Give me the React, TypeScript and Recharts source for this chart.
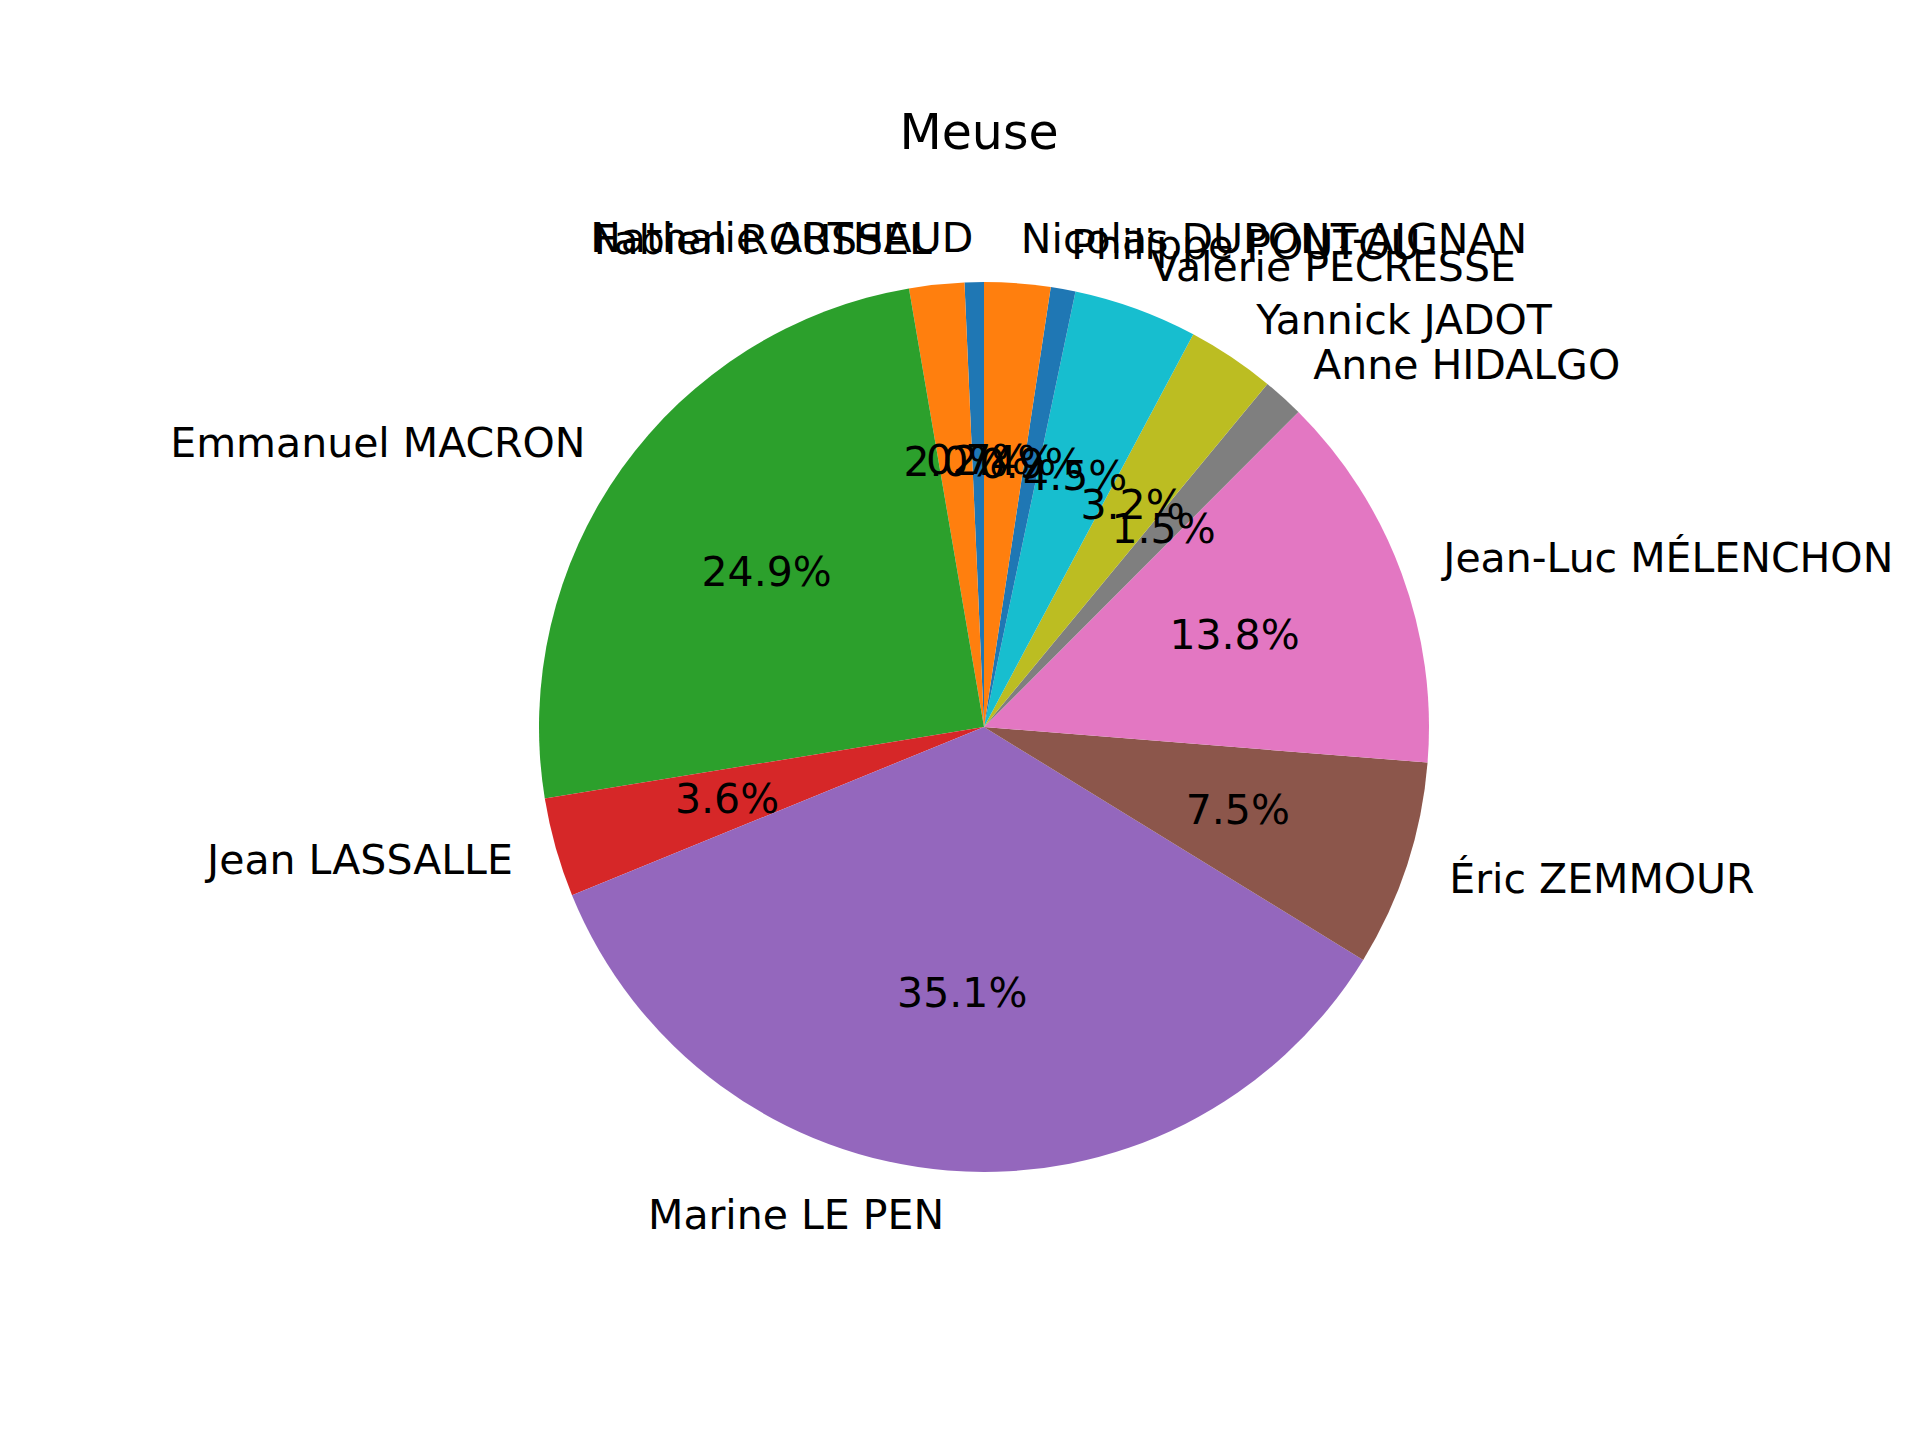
import React from 'react';
import { PieChart, Pie, Cell } from 'recharts';

const candidates = [
  'Nathalie ARTHAUD',
  'Fabien ROUSSEL',
  'Emmanuel MACRON',
  'Jean LASSALLE',
  'Marine LE PEN',
  'Éric ZEMMOUR',
  'Jean-Luc MÉLENCHON',
  'Anne HIDALGO',
  'Yannick JADOT',
  'Valérie PÉCRESSE',
  'Philippe POUTOU',
  'Nicolas DUPONT-AIGNAN'
];
const shares = [0.7, 2.0, 24.9, 3.6, 35.1, 7.5, 13.8, 1.5, 3.2, 4.5, 0.9, 2.4];
const colors = [
  '#1f77b4', '#ff7f0e', '#2ca02c', '#d62728', '#9467bd',
  '#8c564b', '#e377c2', '#7f7f7f', '#bcbd22', '#17becf',
  '#1f77b4', '#ff7f0e'
];

const data = candidates.map((name, i) => ({ name, value: shares[i] }));
const RAD = Math.PI / 180;
const font = 'DejaVu Sans, sans-serif';

const renderLabel = (p: any) => {
  const { cx, cy, midAngle, outerRadius, percent, name } = p;
  const c = Math.cos(-midAngle * RAD);
  const s = Math.sin(-midAngle * RAD);
  const lx = cx + outerRadius * 1.1 * c;
  const ly = cy + outerRadius * 1.1 * s;
  const px = cx + outerRadius * 0.6 * c;
  const py = cy + outerRadius * 0.6 * s;
  return (
    <g>
      <text x={lx} y={ly} textAnchor={c >= 0 ? 'start' : 'end'} dominantBaseline="central"
        fontFamily={font} fontSize={41} fill="#000">{name}</text>
      <text x={px} y={py} textAnchor="middle" dominantBaseline="central"
        fontFamily={font} fontSize={41} fill="#000">{(percent * 100).toFixed(1)}%</text>
    </g>
  );
};

export default function App() {
  return (
    <div style={{ width: 1920, height: 1440, background: '#fff' }}>
      <PieChart width={1920} height={1440}>
        <text x={971} y={124} textAnchor="middle" dominantBaseline="central"
          fontFamily={font} fontSize={49} fill="#000">Meuse</text>
        <Pie
          data={data}
          dataKey="value"
          nameKey="name"
          cx={971}
          cy={714}
          outerRadius={445}
          startAngle={90}
          endAngle={450}
          stroke="none"
          label={renderLabel}
          labelLine={false}
          isAnimationActive={false}
        >
          {data.map((d, i) => (
            <Cell key={d.name} fill={colors[i]} />
          ))}
        </Pie>
      </PieChart>
    </div>
  );
}
